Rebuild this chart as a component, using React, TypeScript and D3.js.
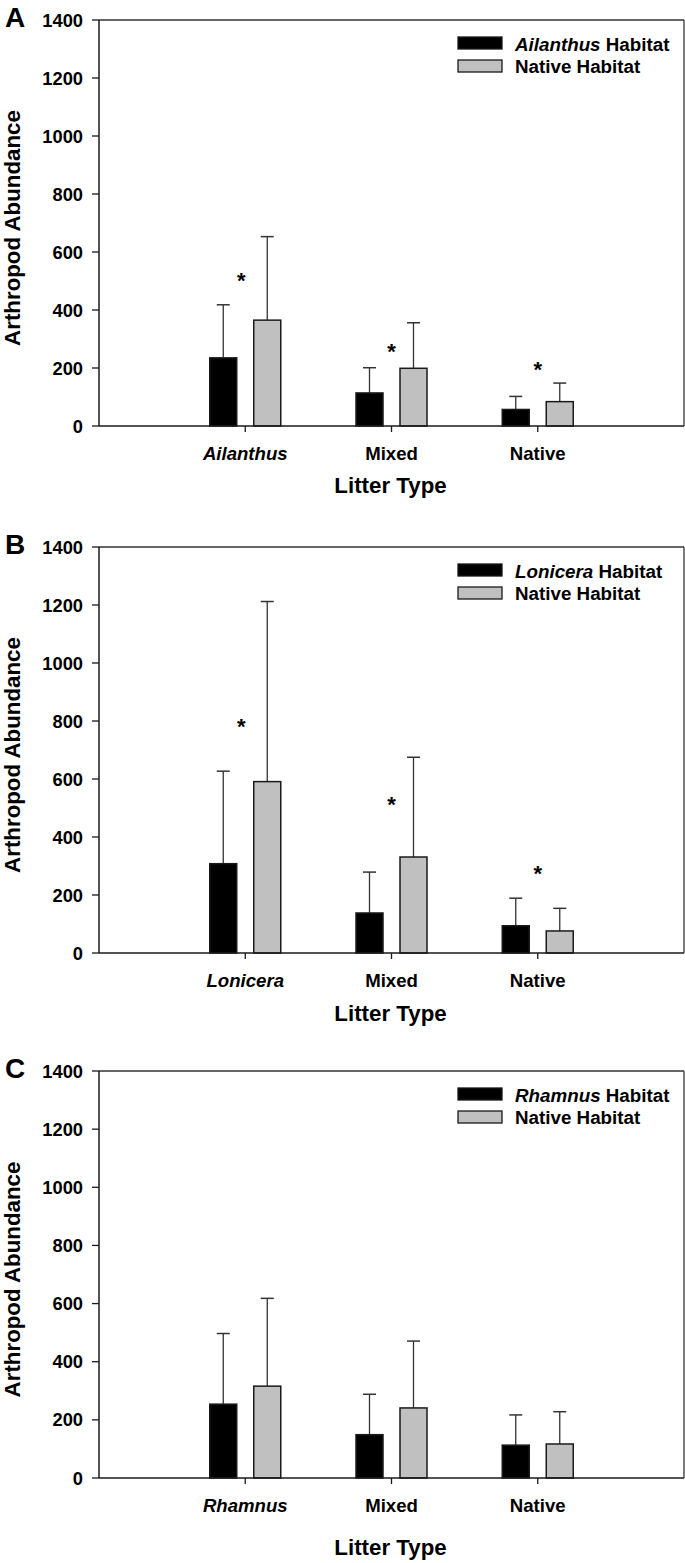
import React from "react";
import * as d3 from "d3";

const series = ["invasive", "native"];
const panelLetters = ["A", "B", "C"];
const genera = ["Ailanthus", "Lonicera", "Rhamnus"];
const yTicks = [0, 200, 400, 600, 800, 1000, 1200, 1400];

// Panel A
const aInvMean = [235, 114, 57];
const aInvErr = [183, 87, 45];
const aNatMean = [365, 199, 84];
const aNatErr = [288, 157, 64];
const aStars = [520, 273, 212];
// Panel B
const bInvMean = [308, 138, 94];
const bInvErr = [319, 141, 95];
const bNatMean = [591, 331, 76];
const bNatErr = [621, 344, 78];
const bStars = [800, 530, 293];
// Panel C
const cInvMean = [254, 149, 113];
const cInvErr = [243, 139, 104];
const cNatMean = [316, 241, 117];
const cNatErr = [302, 230, 111];
const cStars: number[] = [];

const panels = [
  { letter: panelLetters[0], genus: genera[0], inv: aInvMean, invErr: aInvErr, nat: aNatMean, natErr: aNatErr, stars: aStars, top: 20, bottom: 426, titleOff: 67 },
  { letter: panelLetters[1], genus: genera[1], inv: bInvMean, invErr: bInvErr, nat: bNatMean, natErr: bNatErr, stars: bStars, top: 547, bottom: 953, titleOff: 68 },
  { letter: panelLetters[2], genus: genera[2], inv: cInvMean, invErr: cInvErr, nat: cNatMean, natErr: cNatErr, stars: cStars, top: 1071, bottom: 1478, titleOff: 77 },
];

const FONT = "'Liberation Sans', Arial, Helvetica, sans-serif";
const LEFT = 99;
const RIGHT = 684;
const STROKE = "#1a1a1a";
const GRAY = "#c0c0c0";

function Panel({ p }: { p: any }) {
  const cats = [p.genus, "Mixed", "Native"];
  const x = d3.scaleLinear().domain([0, 4]).range([LEFT, RIGHT]);
  const sub = d3.scaleBand<string>().domain(series).range([-35.5, 35.5]).paddingInner(17 / 44).paddingOuter(0);
  const y = d3.scaleLinear().domain([0, 1400]).range([p.bottom, p.top]);
  const bw = sub.bandwidth();
  const capW = 13;

  const bars: any[] = [];
  cats.forEach((c, i) => {
    const cx = x(i + 1);
    const vals = [
      { s: "invasive", m: p.inv[i], e: p.invErr[i], fill: "#000" },
      { s: "native", m: p.nat[i], e: p.natErr[i], fill: GRAY },
    ];
    vals.forEach((v) => {
      const bx = cx + (sub(v.s) as number);
      const bc = bx + bw / 2;
      bars.push(
        <g key={c + v.s}>
          <line x1={bc} x2={bc} y1={y(v.m)} y2={y(v.m + v.e)} stroke="#333" strokeWidth={1.3} />
          <line x1={bc - capW / 2} x2={bc + capW / 2} y1={y(v.m + v.e)} y2={y(v.m + v.e)} stroke="#333" strokeWidth={1.5} />
          <rect x={bx} y={y(v.m)} width={bw} height={y(0) - y(v.m)} fill={v.fill} stroke={STROKE} strokeWidth={1.5} />
        </g>
      );
    });
  });

  const midY = (p.top + p.bottom) / 2;

  return (
    <g>
      <text x={5} y={p.top + 7} fontSize={28} fontWeight="bold" fontFamily={FONT}>{p.letter}</text>
      {/* frame */}
      <line x1={LEFT} x2={RIGHT} y1={p.top} y2={p.top} stroke="#333" strokeWidth={1.3} />
      <line x1={RIGHT} x2={RIGHT} y1={p.top} y2={p.bottom} stroke="#333" strokeWidth={1.3} />
      {bars}
      <line x1={LEFT} x2={LEFT} y1={p.top} y2={p.bottom} stroke={STROKE} strokeWidth={1.5} />
      <line x1={LEFT} x2={RIGHT} y1={p.bottom} y2={p.bottom} stroke={STROKE} strokeWidth={1.5} />
      {yTicks.map((t) => (
        <g key={t}>
          <line x1={LEFT - 7} x2={LEFT} y1={y(t)} y2={y(t)} stroke={STROKE} strokeWidth={1.3} />
          <text x={83} y={y(t) + 6.5} textAnchor="end" fontSize={18.3} fontWeight="bold" fontFamily={FONT}>{t}</text>
        </g>
      ))}
      {cats.map((c, i) => (
        <g key={c}>
          <line x1={x(i + 1)} x2={x(i + 1)} y1={p.bottom} y2={p.bottom + 6} stroke={STROKE} strokeWidth={1.3} />
          <text x={x(i + 1)} y={p.bottom + 34} textAnchor="middle" fontSize={18.6} fontWeight="bold" fontStyle={i === 0 ? "italic" : "normal"} fontFamily={FONT}>{c}</text>
        </g>
      ))}
      {p.stars.map((s: number, i: number) => (
        <text key={"s" + i} x={x(i + 1) - (i === 0 ? 4 : 0)} y={y(s) + 12.5} textAnchor="middle" fontSize={22} fontWeight="bold" fontFamily={FONT}>*</text>
      ))}
      <text x={(LEFT + RIGHT) / 2 - 1} y={p.bottom + p.titleOff} textAnchor="middle" fontSize={22.3} fontWeight="bold" fontFamily={FONT}>Litter Type</text>
      <text transform={`translate(20,${midY + 5}) rotate(-90)`} textAnchor="middle" fontSize={22.3} fontWeight="bold" fontFamily={FONT}>Arthropod Abundance</text>
      {/* legend */}
      <rect x={458} y={p.top + 17} width={44} height={12} fill="#000" stroke={STROKE} strokeWidth={1.3} />
      <rect x={458} y={p.top + 40} width={44} height={12} fill={GRAY} stroke={STROKE} strokeWidth={1.3} />
      <text x={515} y={p.top + 31} fontSize={18.8} fontWeight="bold" fontFamily={FONT}>
        <tspan fontStyle="italic">{p.genus}</tspan>
        <tspan> Habitat</tspan>
      </text>
      <text x={515} y={p.top + 53} fontSize={18.8} fontWeight="bold" fontFamily={FONT}>Native Habitat</text>
    </g>
  );
}

export default function App() {
  return (
    <svg width={685} height={1563} style={{ position: "absolute", left: 0, top: 0, display: "block", background: "#fff" }}>
      <rect x={0} y={0} width={685} height={1563} fill="#fff" />
      {panels.map((p) => (
        <Panel key={p.letter} p={p} />
      ))}
    </svg>
  );
}
